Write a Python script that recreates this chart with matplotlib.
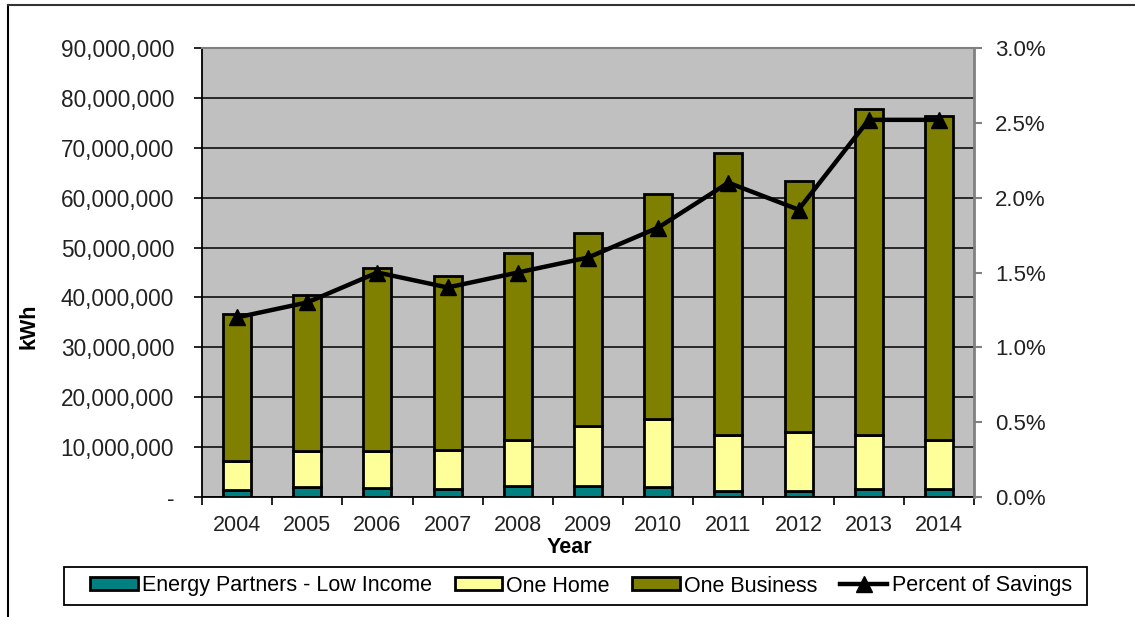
import numpy as np
import matplotlib
matplotlib.use("Agg")
import matplotlib.pyplot as plt
from matplotlib.ticker import FuncFormatter
from matplotlib.lines import Line2D
from matplotlib.patches import Rectangle

plt.rcParams['font.family'] = ['Liberation Sans', 'DejaVu Sans']

years = ['2004', '2005', '2006', '2007', '2008', '2009', '2010',
         '2011', '2012', '2013', '2014']

# savings by program, kWh
low_income = [1.4e6, 2.1e6, 1.9e6, 1.7e6, 2.3e6, 2.3e6, 2.1e6, 1.3e6, 1.2e6, 1.7e6, 1.7e6]
one_home = [5.9e6, 7.1e6, 7.4e6, 7.8e6, 9.2e6, 12.0e6, 13.6e6, 11.2e6, 11.8e6, 10.8e6, 9.8e6]
one_business = [29.3e6, 31.3e6, 36.7e6, 34.8e6, 37.5e6, 38.7e6, 45.0e6, 56.5e6, 50.3e6, 65.3e6, 64.8e6]

# percent of savings, right axis
pct_savings = [1.2, 1.3, 1.5, 1.4, 1.5, 1.6, 1.8, 2.1, 1.92, 2.52, 2.52]

fs = 15.5
W, H = 1135, 617
fig = plt.figure(figsize=(W / 100, H / 100), dpi=100)
fig.patch.set_facecolor('white')

L, R, T, B = 202, 974, 48, 497
ax = fig.add_axes([L / W, 1 - B / H, (R - L) / W, (B - T) / H])
ax.set_facecolor('#C0C0C0')

x = np.arange(len(years))
bw = 0.4
base1 = np.array(low_income)
base2 = base1 + np.array(one_home)
ax.bar(x, low_income, bw, color='#008080', edgecolor='black', linewidth=2,
       label='Energy Partners - Low Income', zorder=3)
ax.bar(x, one_home, bw, bottom=base1, color='#FFFF99', edgecolor='black',
       linewidth=2, label='One Home', zorder=3)
ax.bar(x, one_business, bw, bottom=base2, color='#808000', edgecolor='black',
       linewidth=2, label='One Business', zorder=3)

ax.set_xlim(-0.5, len(years) - 0.5)
ax.set_ylim(0, 90e6)
ax.set_yticks(np.arange(0, 90e6 + 1, 10e6))
ax.yaxis.set_major_formatter(FuncFormatter(lambda v, p: '-' if v == 0 else f'{v:,.0f}'))
ax.grid(axis='y', color='black', linewidth=1.1)
ax.set_axisbelow(True)

ax.set_xticks(x)
ax.set_xticklabels(years)
ax.set_xticks(np.arange(-0.5, len(years), 1), minor=True)
ax.tick_params(axis='x', which='major', length=0, pad=13, labelsize=fs)
ax.tick_params(axis='x', which='minor', length=6, width=1.2, color='black')
ax.tick_params(axis='y', length=6, width=1.2, pad=14, labelsize=16.3, colors='black')
for lbl in ax.get_yticklabels():
    lbl.set_color('#222222')
for lbl in ax.get_xticklabels():
    lbl.set_color('#222222')

for s in ['left', 'bottom']:
    ax.spines[s].set_color('black')
    ax.spines[s].set_linewidth(1.3)
ax.spines['top'].set_color('#808080')
ax.spines['top'].set_linewidth(1.5)
ax.spines['right'].set_visible(False)

ax.set_xlabel('Year', fontsize=fs, fontweight='bold')
ax.set_ylabel('kWh', fontsize=fs, fontweight='bold')
ax.xaxis.set_label_coords((569 - L) / (R - L), (B - 537) / (B - T))
ax.yaxis.set_label_coords((39 - L) / (R - L), (B - 326) / (B - T))

ax2 = ax.twinx()
ax2.plot(x, pct_savings, color='black', linewidth=3.2, marker='^',
         markersize=11, label='Percent of Savings', zorder=5)
ax2.set_ylim(0, 3.0)
ax2.set_yticks(np.arange(0, 3.01, 0.5))
ax2.yaxis.set_major_formatter(FuncFormatter(lambda v, p: f'{v:.1f}%'))
ax2.tick_params(axis='y', length=6, width=1.5, color='#808080', pad=9,
                labelsize=16, labelcolor='#222222')
for s in ['left', 'bottom', 'top']:
    ax2.spines[s].set_visible(False)
ax2.spines['right'].set_color('#808080')
ax2.spines['right'].set_linewidth(2)

# legend entries without frame; the box is drawn separately
h1, l1 = ax.get_legend_handles_labels()
h2, l2 = ax2.get_legend_handles_labels()
leg = fig.legend(h1 + h2, l1 + l2, ncol=4, loc='center',
                 bbox_to_anchor=(581 / W, 1 - 586 / H),
                 fontsize=fs, frameon=False,
                 handlelength=2.2, handleheight=0.55, handletextpad=0.2,
                 columnspacing=1.05, borderpad=0.4)
fig.add_artist(Rectangle((64 / W, 1 - 605 / H), (1087 - 64) / W, 38 / H,
                         transform=fig.transFigure, facecolor='none',
                         edgecolor='black', linewidth=1.3))

# outer chart frame (top and left edges)
fig.add_artist(Line2D([8 / W, 8 / W], [0, 1 - 5 / H], color='black', linewidth=1.5))
fig.add_artist(Line2D([8 / W, 1], [1 - 5 / H, 1 - 5 / H], color='#333333', linewidth=1.5))

fig.savefig('out.png', dpi=100)
